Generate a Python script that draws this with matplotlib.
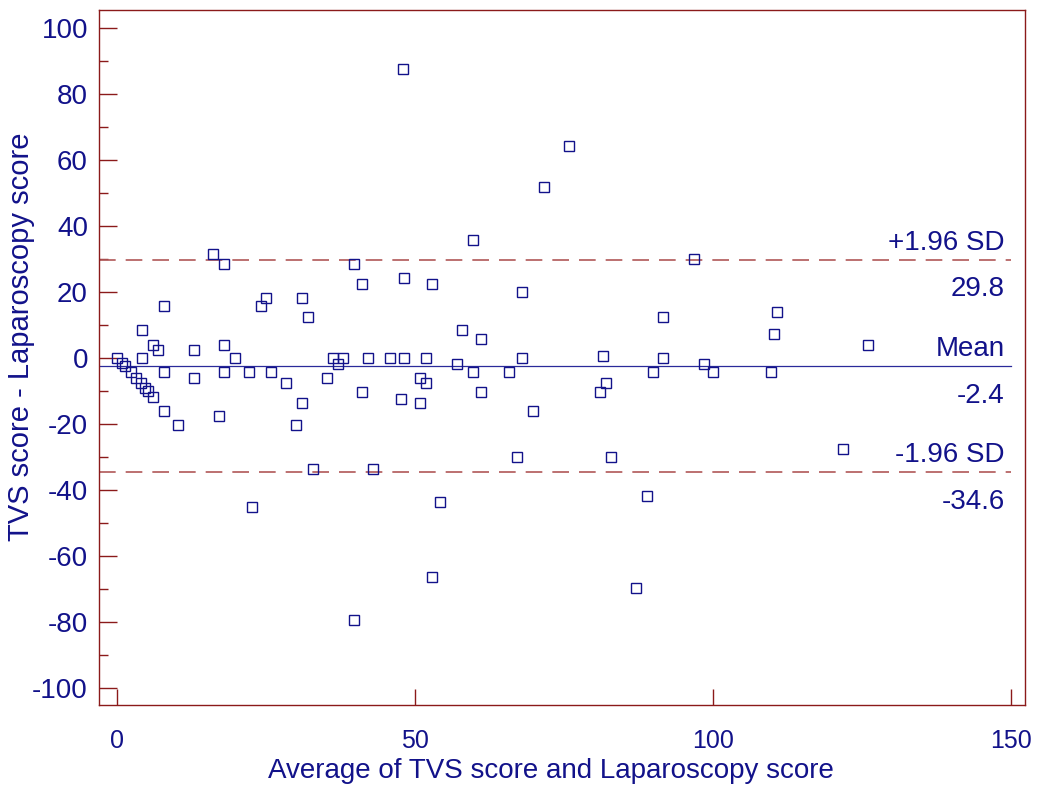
import matplotlib
matplotlib.use("Agg")
from matplotlib import pyplot as plt
from matplotlib.ticker import MultipleLocator
import matplotlib.transforms as mtransforms

plt.rcParams["axes.unicode_minus"] = False
plt.rcParams["font.family"] = "Liberation Sans"

# Bland-Altman data: mean of the two scores vs their difference
avg_scores = [47.9, 75.8, 71.6, 59.6, 16.1, 96.7, 17.9, 39.7, 48.0, 52.7,
              41.1, 67.9, 31.0, 24.9, 24.0, 7.8, 110.7, 91.6, 31.9, 110.2,
              57.8, 4.1, 61.0, 5.9, 17.9, 125.9, 12.9, 6.85, 81.4,
              0.0, 4.1, 19.8, 36.1, 37.9, 42.1, 45.7, 48.0, 51.8, 67.9, 91.6,
              37.0, 56.9, 98.5,
              0.75, 1.25, 2.2, 3.1, 3.9, 4.6, 5.1, 6.0,
              7.8, 17.9, 22.1, 25.8, 59.7, 65.7, 89.8, 99.9, 109.6,
              12.9, 35.1, 50.8,
              28.2, 51.8, 81.9,
              41.1, 61.0, 80.9,
              47.6, 31.0, 50.7,
              7.8, 69.8, 17.0, 10.1, 30.0,
              67.0, 82.8, 121.7, 32.8, 42.9,
              54.1, 22.6, 88.8, 52.7, 87.0, 39.7]
diff_scores = [87.7, 64.2, 51.8, 35.8, 31.6, 30.0, 28.4, 28.4, 24.2, 22.5,
               22.5, 20.0, 18.3, 18.3, 15.8, 15.8, 14.1, 12.4, 12.4, 7.4,
               8.4, 8.4, 5.8, 4.1, 4.1, 4.0, 2.5, 2.5, 0.8,
               0, 0, 0, 0, 0, 0, 0, 0, 0, 0, 0,
               -1.7, -1.7, -1.7,
               -1.5, -2.5, -4.2, -5.9, -7.6, -8.9, -9.9, -11.7,
               -4.2, -4.2, -4.2, -4.2, -4.2, -4.2, -4.2, -4.2, -4.2,
               -5.9, -5.9, -5.9,
               -7.6, -7.6, -7.6,
               -10.1, -10.1, -10.1,
               -12.5, -13.5, -13.5,
               -16.0, -16.0, -17.6, -20.1, -20.1,
               -29.9, -29.9, -27.6, -33.5, -33.5,
               -43.5, -45.2, -41.9, -66.2, -69.5, -79.4]

mean_diff = -2.4
upper_loa = 29.8
lower_loa = -34.6

navy = "#12128a"
maroon = "#8b1a1a"
dash_red = "#b05858"

fig = plt.figure(figsize=(10.38, 7.99), dpi=100)
ax = fig.add_axes([0.0954, 0.1176, 0.8921, 0.8699])

ax.plot(avg_scores, diff_scores, linestyle="none", marker="s", markersize=6.5,
        markerfacecolor="none", markeredgecolor=navy, markeredgewidth=1.0,
        zorder=3)

x0, x1 = -3.1, 152.3
ax.plot([x0, 150], [mean_diff, mean_diff], color="#2a2a9a", lw=0.9, zorder=2)
for lim in (upper_loa, lower_loa):
    ax.plot([x0, 150], [lim, lim], color=dash_red, lw=1.2,
            linestyle=(0, (10, 6)), zorder=2)

ax.set_xlim(x0, x1)
ax.set_ylim(-105.1, 105.5)

# labels for the reference lines, right-aligned near the end of the lines
trans = mtransforms.blended_transform_factory(ax.transAxes, ax.transData)
label_kw = dict(xycoords=trans, textcoords="offset points", ha="right",
                color=navy, fontsize=20)
for text_above, value in (("+1.96 SD", upper_loa), ("Mean", mean_diff),
                          ("-1.96 SD", lower_loa)):
    ax.annotate(text_above, xy=(0.978, value), xytext=(0, 3), va="bottom",
                **label_kw)
    ax.annotate(f"{value:.1f}", xy=(0.978, value), xytext=(0, -12), va="top",
                **label_kw)

ax.yaxis.set_major_locator(MultipleLocator(20))
ax.yaxis.set_minor_locator(MultipleLocator(10))
ax.xaxis.set_major_locator(MultipleLocator(50))
ax.tick_params(axis="y", which="major", direction="in", length=13, width=1.0,
               color=maroon, labelcolor=navy, labelsize=20, pad=8)
ax.tick_params(axis="y", which="minor", direction="in", length=6.5, width=1.0,
               color=maroon)
ax.tick_params(axis="x", which="major", direction="in", length=11.5, width=1.0,
               color=maroon, labelcolor=navy, labelsize=18, pad=17)

for sp in ax.spines.values():
    sp.set_color(maroon)
    sp.set_linewidth(1.0)

ax.set_ylabel("TVS score - Laparoscopy score", fontsize=21, color=navy)
ax.yaxis.set_label_coords(-0.069, 0.53)
ax.set_xlabel("Average of TVS score and Laparoscopy score", fontsize=20,
              color=navy)
ax.xaxis.set_label_coords(0.488, -0.076)

fig.savefig("out.png", dpi=100)
